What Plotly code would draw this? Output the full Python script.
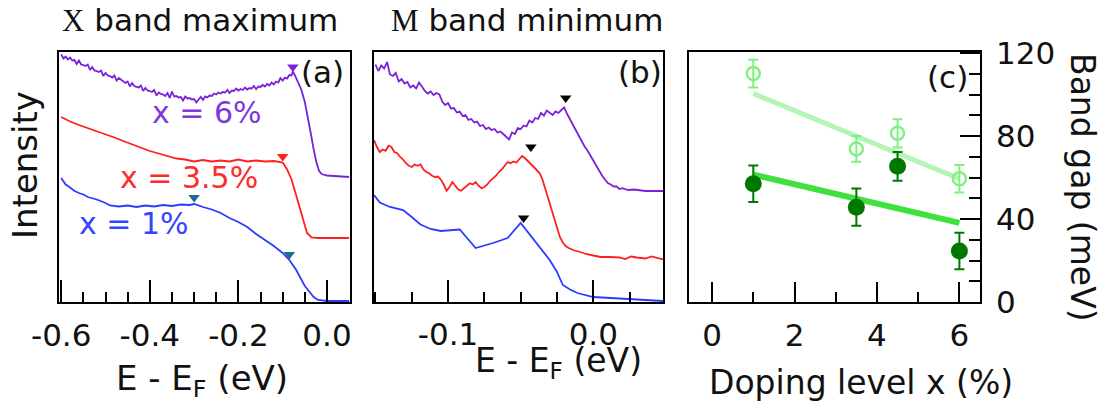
import plotly.graph_objects as go

W, H = 1104, 405
FONT = "DejaVu Sans"
SERIF = "Liberation Serif"

# ---------------- panel (a): X band maximum, energy distribution curves ----------------
a_x6 = [-0.600, -0.595, -0.590, -0.585, -0.580, -0.575, -0.570, -0.565, -0.560, -0.555,
        -0.550, -0.545, -0.540, -0.535, -0.530, -0.525, -0.520, -0.515, -0.510, -0.505,
        -0.500, -0.495, -0.490, -0.485, -0.480, -0.475, -0.470, -0.465, -0.460, -0.455,
        -0.450, -0.445, -0.440, -0.435, -0.430, -0.425, -0.420, -0.415, -0.410, -0.405,
        -0.400, -0.395, -0.390, -0.385, -0.380, -0.375, -0.370, -0.365, -0.360, -0.355,
        -0.350, -0.345, -0.340, -0.335, -0.330, -0.325, -0.320, -0.315, -0.310, -0.305,
        -0.300, -0.295, -0.290, -0.285, -0.280, -0.275, -0.270, -0.265, -0.260, -0.255,
        -0.250, -0.245, -0.240, -0.235, -0.230, -0.225, -0.220, -0.215, -0.210, -0.205,
        -0.200, -0.195, -0.190, -0.185, -0.180, -0.175, -0.170, -0.165, -0.160, -0.155,
        -0.150, -0.145, -0.140, -0.135, -0.130, -0.125, -0.120, -0.115, -0.110, -0.105,
        -0.100, -0.095, -0.090, -0.085, -0.080, -0.077, -0.072, -0.065, -0.058, -0.050,
        -0.043, -0.036, -0.030, -0.024, -0.018, -0.012, -0.005, 0.000, 0.050]
a_y6 = [9.90, 9.74, 9.82, 9.70, 9.78, 9.66, 9.68, 9.52, 9.66, 9.50,
        9.48, 9.44, 9.50, 9.28, 9.40, 9.26, 9.24, 9.20, 9.26, 9.04,
        9.16, 9.06, 9.04, 8.98, 9.06, 8.86, 8.96, 8.88, 8.84, 8.76,
        8.82, 8.62, 8.76, 8.64, 8.60, 8.58, 8.66, 8.44, 8.56, 8.46,
        8.44, 8.40, 8.48, 8.26, 8.38, 8.32, 8.30, 8.24, 8.36, 8.16,
        8.42, 8.22, 8.24, 8.18, 8.20, 8.06, 8.22, 8.14, 8.16, 8.10,
        8.12, 7.98, 8.10, 8.20, 8.08, 8.22, 8.18, 8.26, 8.24, 8.34,
        8.30, 8.38, 8.34, 8.40, 8.38, 8.48, 8.36, 8.46, 8.44, 8.54,
        8.46, 8.52, 8.48, 8.58, 8.50, 8.56, 8.54, 8.64, 8.52, 8.62,
        8.60, 8.68, 8.62, 8.72, 8.66, 8.78, 8.70, 8.82, 8.78, 8.96,
        8.86, 8.98, 8.94, 9.08, 9.06, 9.22, 9.05, 8.80, 8.50, 8.00,
        7.40, 6.70, 6.10, 5.60, 5.25, 5.12, 5.08, 5.06, 5.00]

a_x35 = [-0.60, -0.58, -0.56, -0.54, -0.52, -0.50, -0.48, -0.46, -0.44, -0.42,
         -0.40, -0.38, -0.36, -0.34, -0.32, -0.30, -0.28, -0.26, -0.24, -0.22,
         -0.20, -0.18, -0.16, -0.14, -0.12, -0.10, -0.09, -0.08, -0.07, -0.06,
         -0.05, -0.045, -0.035, -0.02, 0.05]
a_y35 = [7.40, 7.22, 7.08, 6.96, 6.82, 6.72, 6.58, 6.44, 6.30, 6.18,
         6.04, 5.94, 5.84, 5.74, 5.70, 5.62, 5.68, 5.62, 5.66, 5.62,
         5.70, 5.62, 5.66, 5.62, 5.64, 5.58, 5.30, 4.90, 4.30, 3.65,
         3.00, 2.76, 2.58, 2.56, 2.56]

a_x1 = [-0.60, -0.59, -0.58, -0.57, -0.56, -0.55, -0.54, -0.52, -0.50, -0.49,
        -0.47, -0.45, -0.43, -0.41, -0.39, -0.37, -0.35, -0.33, -0.31, -0.30,
        -0.28, -0.26, -0.24, -0.22, -0.20, -0.18, -0.16, -0.14, -0.12, -0.10,
        -0.085, -0.07, -0.06, -0.05, -0.04, -0.03, -0.02, 0.00, 0.05]
a_y1 = [4.96, 4.70, 4.58, 4.44, 4.36, 4.30, 4.20, 4.10, 3.96, 3.86,
        3.82, 3.86, 3.80, 3.86, 3.82, 3.88, 3.84, 3.90, 3.88, 3.92,
        3.80, 3.70, 3.56, 3.36, 3.20, 3.00, 2.72, 2.48, 2.24, 1.96,
        1.68, 1.30, 0.96, 0.64, 0.42, 0.20, 0.08, 0.04, 0.04]

# band-edge markers in (a)
a_mark6 = ([-0.077], [9.40])
a_mark35 = ([-0.100], [5.82])
a_mark1 = ([-0.300, -0.085], [4.18, 1.90])

# ---------------- panel (b): M band minimum ----------------
b_x6 = [-0.150, -0.148, -0.146, -0.144, -0.142, -0.140, -0.138, -0.136, -0.134, -0.132,
        -0.130, -0.128, -0.126, -0.124, -0.122, -0.120, -0.118, -0.116, -0.114, -0.112,
        -0.110, -0.108, -0.106, -0.104, -0.102, -0.100, -0.098, -0.096, -0.094, -0.092,
        -0.090, -0.088, -0.086, -0.084, -0.082, -0.080, -0.078, -0.076, -0.074, -0.072,
        -0.070, -0.068, -0.066, -0.064, -0.062, -0.060, -0.058, -0.056, -0.054, -0.052,
        -0.050, -0.048, -0.046, -0.044, -0.042, -0.040, -0.038, -0.036, -0.034, -0.032,
        -0.030, -0.028, -0.026, -0.024, -0.022, -0.020, -0.018, -0.016, -0.014, -0.012,
        -0.010, -0.008, -0.006, -0.004, -0.002, 0.000, 0.002, 0.004, 0.006, 0.008,
        0.010, 0.012, 0.014, 0.016, 0.018, 0.020, 0.024, 0.028, 0.032, 0.036, 0.048]
b_y6 = [9.50, 9.24, 9.46, 9.34, 9.60, 9.10, 9.04, 9.16, 8.82, 8.92,
        8.74, 8.80, 8.58, 8.66, 8.54, 8.78, 8.62, 8.44, 8.34, 8.42,
        8.28, 8.36, 8.30, 8.02, 7.88, 7.96, 7.74, 7.76, 7.58, 7.62,
        7.44, 7.48, 7.28, 7.32, 7.18, 7.22, 7.04, 7.08, 6.92, 6.98,
        6.88, 6.92, 6.78, 6.82, 6.72, 6.62, 6.50, 6.78, 6.72, 6.96,
        6.92, 7.06, 7.02, 7.26, 7.18, 7.36, 7.32, 7.56, 7.46, 7.66,
        7.56, 7.48, 7.62, 7.56, 7.68, 7.78, 7.52, 7.30, 7.08, 6.86,
        6.62, 6.46, 6.22, 6.06, 5.86, 5.62, 5.46, 5.22, 5.06, 4.90,
        4.76, 4.70, 4.62, 4.62, 4.52, 4.55, 4.48, 4.50, 4.46, 4.44, 4.44]

b_x35 = [-0.151, -0.149, -0.147, -0.145, -0.143, -0.141, -0.139, -0.137, -0.135, -0.133,
         -0.131, -0.129, -0.127, -0.125, -0.123, -0.121, -0.119, -0.117, -0.115, -0.113,
         -0.111, -0.109, -0.107, -0.105, -0.103, -0.101, -0.099, -0.097, -0.095, -0.093,
         -0.091, -0.089, -0.087, -0.085, -0.083, -0.081, -0.079, -0.077, -0.075, -0.073,
         -0.071, -0.069, -0.067, -0.065, -0.063, -0.061, -0.059, -0.057, -0.055, -0.053,
         -0.051, -0.049, -0.047, -0.045, -0.043, -0.041, -0.039, -0.037, -0.035, -0.033,
         -0.031, -0.029, -0.027, -0.025, -0.023, -0.021, -0.019, -0.017, -0.013, -0.009,
         -0.005, 0.000, 0.005, 0.012, 0.018, 0.022, 0.026, 0.030, 0.036, 0.040, 0.044, 0.048]
b_y35 = [6.48, 6.20, 6.00, 6.10, 6.05, 6.25, 6.20, 6.00, 5.95, 5.80,
         5.70, 5.55, 5.45, 5.40, 5.50, 5.45, 5.50, 5.30, 5.20, 5.15,
         5.05, 5.00, 5.02, 4.90, 4.70, 4.45, 4.60, 4.80, 4.65, 4.50,
         4.45, 4.55, 4.65, 4.75, 4.70, 4.80, 4.65, 4.55, 4.60, 4.70,
         4.85, 4.95, 5.05, 5.20, 5.30, 5.45, 5.60, 5.55, 5.62, 5.58,
         5.72, 5.84, 5.75, 5.62, 5.52, 5.40, 5.28, 5.16, 4.90, 4.50,
         4.10, 3.70, 3.30, 2.95, 2.60, 2.38, 2.24, 2.16, 2.06, 2.00,
         1.92, 1.86, 1.80, 1.80, 1.78, 1.72, 1.82, 1.78, 1.74, 1.82, 1.76, 1.70]

b_x1 = [-0.151, -0.147, -0.140, -0.131, -0.125, -0.119, -0.112, -0.105, -0.092, -0.081,
        -0.069, -0.059, -0.050, -0.041, -0.030, -0.025, -0.021, -0.016, -0.011, 0.000,
        0.023, 0.048]
b_y1 = [4.28, 3.98, 3.80, 3.68, 3.40, 3.10, 2.92, 2.84, 2.90, 2.16,
        2.36, 2.56, 3.16, 2.48, 1.68, 1.20, 0.68, 0.50, 0.36, 0.20,
        0.12, 0.04]

b_marks = ([-0.019, -0.043, -0.048], [8.16, 6.20, 3.36])

# ---------------- panel (c): band gap vs doping ----------------
dop = [1.0, 3.5, 4.5, 6.0]
gap_open = [110.1, 73.8, 81.3, 59.4]
gap_open_err = [6.7, 6.2, 6.8, 6.6]
gap_fill = [57.0, 45.7, 65.4, 24.6]
gap_fill_err = [8.8, 9.0, 6.9, 8.8]
fit_x = [1.0, 6.0]
fit_open = [100.5, 59.4]
fit_fill = [61.4, 38.1]

PURPLE = "#7b22d8"
RED = "#ff1f1f"
BLUE = "#2b3bff"
TEAL = "#1f6b8a"
LIGHT_G = "#80f080"
PALE_G = "#b4f4b4"
DARK_G = "#007800"
BRIGHT_G = "#3fe03f"

fig = go.Figure()


def line(x, y, color, ax):
    fig.add_trace(go.Scatter(x=x, y=y, mode="lines", line=dict(color=color, width=1.8),
                             xaxis="x" + ax, yaxis="y" + ax, hoverinfo="skip"))


def tri(pts, color, ax, size=10):
    fig.add_trace(go.Scatter(x=pts[0], y=pts[1], mode="markers",
                             marker=dict(symbol="triangle-down", size=size, color=color),
                             xaxis="x" + ax, yaxis="y" + ax, hoverinfo="skip"))


line(a_x6, a_y6, PURPLE, "")
line(a_x35, a_y35, RED, "")
line(a_x1, a_y1, BLUE, "")
tri(a_mark6, PURPLE, "")
tri(a_mark35, RED, "")
tri(a_mark1, TEAL, "")

line(b_x6, b_y6, PURPLE, "2")
line(b_x35, b_y35, RED, "2")
line(b_x1, b_y1, BLUE, "2")
tri(b_marks, "black", "2")

fig.add_trace(go.Scatter(x=fit_x, y=fit_open, mode="lines", line=dict(color=PALE_G, width=5),
                         xaxis="x3", yaxis="y3"))
fig.add_trace(go.Scatter(x=fit_x, y=fit_fill, mode="lines", line=dict(color=BRIGHT_G, width=6),
                         xaxis="x3", yaxis="y3"))
fig.add_trace(go.Scatter(x=dop, y=gap_open, mode="markers",
                         error_y=dict(type="data", array=gap_open_err, color=LIGHT_G, thickness=2, width=5),
                         marker=dict(symbol="circle-open", size=13, color=LIGHT_G, line=dict(width=2.5, color=LIGHT_G)),
                         xaxis="x3", yaxis="y3"))
fig.add_trace(go.Scatter(x=dop, y=gap_fill, mode="markers",
                         error_y=dict(type="data", array=gap_fill_err, color=DARK_G, thickness=2, width=5),
                         marker=dict(symbol="circle", size=17, color=DARK_G),
                         xaxis="x3", yaxis="y3"))


def px(x):
    return x / W


def py(y):
    return 1 - y / H


YTOP, YBOT = py(52), py(302)
frame = dict(showline=True, linecolor="black", linewidth=1.5, mirror=True, showgrid=False,
             zeroline=False, automargin=False)
tickfont = dict(family=FONT, size=31, color="#111")

fig.update_layout(
    width=W, height=H, margin=dict(l=0, r=0, t=0, b=0, autoexpand=False),
    paper_bgcolor="white", plot_bgcolor="white", showlegend=False,
    font=dict(family=FONT, color="#111"),
    xaxis=dict(domain=[px(59), px(350)], range=[-0.605, 0.052], anchor="y",
               tickvals=[-0.6, -0.4, -0.2, 0.0], ticktext=["-0.6", "-0.4", "-0.2", "0.0"],
               ticks="inside", ticklen=22, tickwidth=1.5, tickcolor="black",
               minor=dict(dtick=0.05, ticks="inside", ticklen=10, tickwidth=1.5, tickcolor="black"),
               tickfont=tickfont, ticklabelstandoff=5, **frame),
    yaxis=dict(domain=[YBOT, YTOP], range=[0, 10], anchor="x", showticklabels=False, ticks="", **frame),
    xaxis2=dict(domain=[px(374), px(663)], range=[-0.151, 0.048], anchor="y2",
                tickvals=[-0.1, 0.0], ticktext=["-0.1", "0.0"],
                ticks="inside", ticklen=22, tickwidth=1.5, tickcolor="black",
                minor=dict(dtick=0.025, ticks="inside", ticklen=10, tickwidth=1.5, tickcolor="black"),
                tickfont=tickfont, ticklabelstandoff=4, **frame),
    yaxis2=dict(domain=[YBOT, YTOP], range=[0, 10], anchor="x2", showticklabels=False, ticks="", **frame),
    xaxis3=dict(domain=[px(689), px(980)], range=[-0.56, 6.5], anchor="y3",
                tickvals=[0, 2, 4, 6], ticks="inside", ticklen=20, tickwidth=1.5, tickcolor="black",
                minor=dict(dtick=1, ticks="inside", ticklen=10, tickwidth=1.5, tickcolor="black"),
                tickfont=tickfont, ticklabelstandoff=5, **frame),
    yaxis3=dict(domain=[YBOT, YTOP], range=[0, 120.5], anchor="x3", side="right",
                tickvals=[0, 40, 80, 120], ticks="inside", ticklen=20, tickwidth=1.5, tickcolor="black",
                minor=dict(dtick=10, ticks="inside", ticklen=11, tickwidth=1.5, tickcolor="black"),
                tickfont=tickfont, ticklabelstandoff=8, **frame),
)

ann = []


def paper_text(text, x, y, size, angle=0, color="#111"):
    ann.append(dict(text=text, x=px(x), y=py(y), xref="paper", yref="paper",
                    xanchor="center", yanchor="middle", showarrow=False, textangle=angle,
                    font=dict(family=FONT, size=size, color=color)))


def data_text(text, x, y, ax, color, size=30):
    ann.append(dict(text=text, x=x, y=y, xref="x" + ax, yref="y" + ax,
                    xanchor="center", yanchor="middle", showarrow=False,
                    font=dict(family=FONT, size=size, color=color)))


paper_text(f"<span style='font-family:{SERIF}'>X</span> band maximum", 200, 20, 31)
paper_text(f"<span style='font-family:{SERIF}'>M</span> band minimum", 527, 20, 31)
paper_text("Intensity", 25, 165, 34, angle=-90)
paper_text("Band gap (meV)", 1082, 187, 33, angle=90)
paper_text("E - E<sub>F</sub> (eV)", 202, 380, 34)
paper_text("E - E<sub>F</sub> (eV)", 558, 362, 33)
paper_text("Doping level x (%)", 861, 382, 33)
paper_text("(a)", 322, 72, 31)
paper_text("(b)", 640, 72, 31)
paper_text("(c)", 947, 77, 31)

data_text("x = 6%", -0.27, 7.6, "", "#8236de")
data_text("x = 3.5%", -0.312, 5.0, "", "#ff2a2a")
data_text("x = 1%", -0.436, 3.16, "", "#3444ff")

fig.update_layout(annotations=ann)
fig.write_html("out.html")
